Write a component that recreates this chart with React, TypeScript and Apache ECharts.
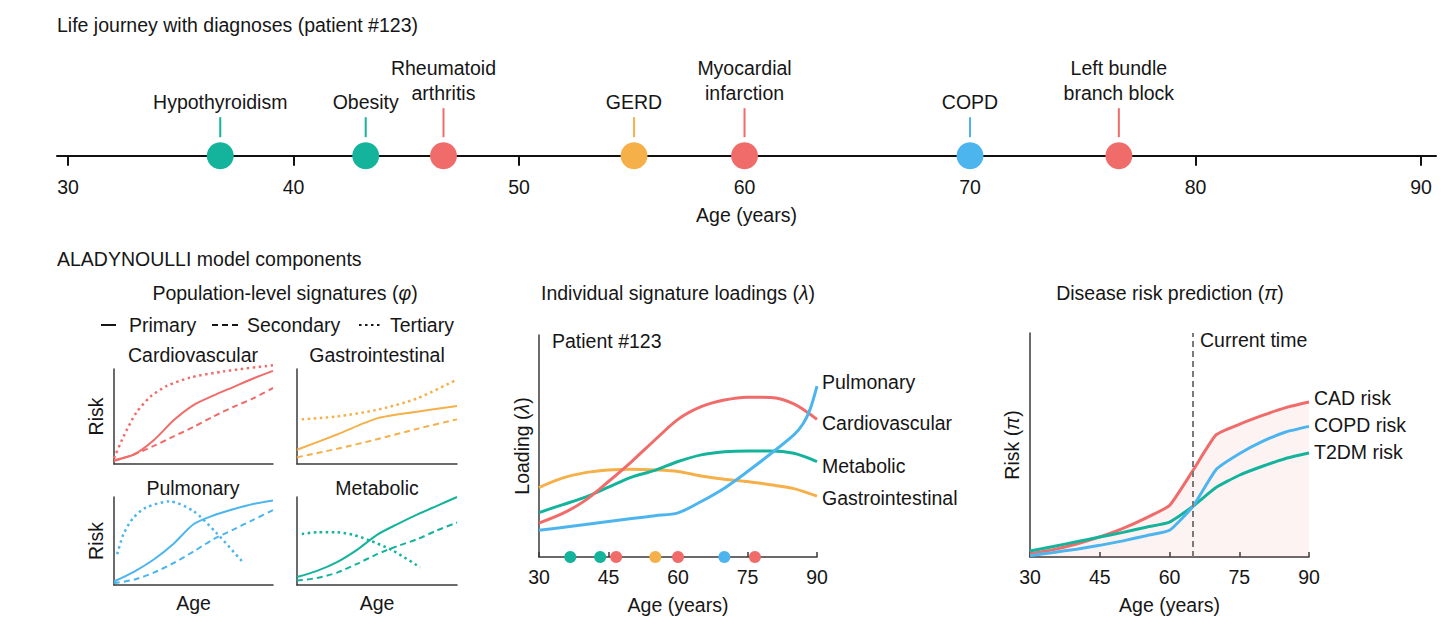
import React, { useEffect, useRef } from 'react';
import * as echarts from 'echarts';

const FONT = '"Liberation Sans", Arial, Helvetica, sans-serif';
const FS = 19.5;
const INK = '#161616';
const AXIS = '#3a3a3a';

const RED = '#F06C6A';
const TEAL = '#14B39B';
const ORANGE = '#F5B04A';
const BLUE = '#4DB5EE';
const PINK_FILL = 'rgba(242,108,106,0.08)';
const GREY_DASH = '#7a7a7a';

const groupColors: Record<string, string> = {
  Cardiovascular: RED,
  Gastrointestinal: ORANGE,
  Pulmonary: BLUE,
  Metabolic: TEAL,
};

// ---------- Timeline ----------
const timelineTicks = [30, 40, 50, 60, 70, 80, 90];
const eventNames = [
  'Hypothyroidism',
  'Obesity',
  'Rheumatoid\narthritis',
  'GERD',
  'Myocardial\ninfarction',
  'COPD',
  'Left bundle\nbranch block',
];
const eventAges = [36.75, 43.2, 46.65, 55.1, 60.0, 70.0, 76.6];
const eventGroups = [
  'Metabolic',
  'Metabolic',
  'Cardiovascular',
  'Gastrointestinal',
  'Cardiovascular',
  'Pulmonary',
  'Cardiovascular',
];

// ---------- Population-level signatures (normalised age, risk) ----------
const cardioPrimary = [[0, 0.04], [0.125, 0.1], [0.25, 0.25], [0.375, 0.46], [0.5, 0.62], [0.625, 0.72], [0.75, 0.81], [0.875, 0.9], [1, 0.98]];
const cardioSecondary = [[0, 0.03], [0.125, 0.1], [0.25, 0.19], [0.375, 0.29], [0.5, 0.39], [0.625, 0.5], [0.75, 0.6], [0.875, 0.69], [1, 0.8]];
const cardioTertiary = [[0, 0.06], [0.06, 0.29], [0.14, 0.54], [0.23, 0.71], [0.33, 0.82], [0.48, 0.91], [0.69, 0.975], [1, 1.04]];

const gastroPrimary = [[0, 0.15], [0.25, 0.31], [0.5, 0.48], [0.75, 0.55], [1, 0.61]];
const gastroSecondary = [[0, 0.07], [0.25, 0.16], [0.5, 0.26], [0.75, 0.37], [1, 0.47]];
const gastroTertiary = [[0.03, 0.47], [0.25, 0.5], [0.5, 0.57], [0.75, 0.69], [1, 0.89]];

const pulmPrimary = [[0, 0.04], [0.125, 0.15], [0.25, 0.29], [0.375, 0.47], [0.5, 0.69], [0.625, 0.79], [0.75, 0.86], [0.875, 0.92], [1, 0.96]];
const pulmSecondary = [[0, 0.02], [0.125, 0.06], [0.25, 0.14], [0.375, 0.25], [0.5, 0.38], [0.625, 0.52], [0.75, 0.63], [0.875, 0.74], [1, 0.85]];
const pulmTertiary = [[0.02, 0.35], [0.06, 0.58], [0.12, 0.76], [0.2, 0.88], [0.35, 0.95], [0.5, 0.84], [0.64, 0.6], [0.81, 0.26]];

const metabPrimary = [[0, 0.09], [0.125, 0.16], [0.25, 0.26], [0.375, 0.4], [0.5, 0.57], [0.625, 0.69], [0.75, 0.8], [0.875, 0.9], [1, 1.0]];
const metabSecondary = [[0, 0.05], [0.125, 0.08], [0.25, 0.14], [0.375, 0.24], [0.5, 0.35], [0.625, 0.44], [0.75, 0.52], [0.875, 0.62], [1, 0.71]];
const metabTertiary = [[0.03, 0.58], [0.13, 0.6], [0.25, 0.6], [0.35, 0.57], [0.45, 0.51], [0.6, 0.39], [0.77, 0.2]];

// ---------- Individual signature loadings ----------
const loadAges = [30, 35, 40, 45, 50, 55, 60, 65, 70, 75, 80, 85, 90];
const loadCardio = [0.153, 0.195, 0.255, 0.34, 0.43, 0.527, 0.62, 0.677, 0.707, 0.72, 0.719, 0.69, 0.62];
const loadMetab = [0.2, 0.235, 0.27, 0.315, 0.36, 0.39, 0.43, 0.46, 0.474, 0.478, 0.478, 0.467, 0.43];
const loadGastro = [0.313, 0.355, 0.38, 0.392, 0.395, 0.392, 0.385, 0.365, 0.35, 0.34, 0.325, 0.308, 0.274];
const pulmAges = [30, 35, 40, 45, 50, 55, 60, 65, 70, 75, 80, 85, 87, 88.5, 90];
const loadPulm = [0.12, 0.133, 0.146, 0.16, 0.173, 0.186, 0.199, 0.25, 0.31, 0.385, 0.465, 0.55, 0.6, 0.665, 0.77];

// ---------- Disease risk prediction ----------
const riskAges = [30, 35, 40, 45, 50, 55, 60, 65, 70, 75, 80, 85, 90];
const riskCAD = [0.015, 0.033, 0.058, 0.09, 0.128, 0.175, 0.23, 0.385, 0.545, 0.592, 0.632, 0.667, 0.692];
const riskCOPD = [0.006, 0.02, 0.035, 0.052, 0.072, 0.095, 0.119, 0.225, 0.39, 0.461, 0.516, 0.558, 0.583];
const riskT2DM = [0.027, 0.047, 0.068, 0.089, 0.11, 0.133, 0.156, 0.226, 0.31, 0.365, 0.405, 0.44, 0.464];
const currentAge = 65;

const pair = (xs: number[], ys: number[]) => xs.map((x, i) => [x, ys[i]]);

const txt = (size = FS) => ({ fontSize: size, fontFamily: FONT, color: INK });

function subLine(idx: number, data: number[][], color: string, dash: any, width = 2) {
  return {
    type: 'line',
    xAxisIndex: idx,
    yAxisIndex: idx,
    data,
    symbol: 'none',
    showSymbol: false,
    smooth: 0.25,
    clip: false,
    silent: true,
    lineStyle: { color, width, type: dash, cap: 'butt' },
  };
}

const DASHED = [6, 4];
const DOTTED = [2.5, 3.5];

function mainLine(idx: number, name: string, data: number[][], color: string, smooth: number, dy: number, extra: any = {}) {
  return {
    type: 'line',
    name,
    xAxisIndex: idx,
    yAxisIndex: idx,
    data,
    symbol: 'none',
    showSymbol: false,
    smooth,
    clip: false,
    silent: true,
    lineStyle: { color, width: 3 },
    endLabel: {
      show: true,
      formatter: name,
      distance: 5,
      offset: [0, dy],
      ...txt(),
    },
    ...extra,
  };
}

function subAxes(idx: number, showAge: boolean, showRisk: boolean) {
  const line = { show: true, lineStyle: { color: AXIS, width: 1.5 } };
  return {
    x: {
      gridIndex: idx,
      type: 'value',
      min: 0,
      max: 1,
      axisLine: line,
      axisTick: { show: false },
      axisLabel: { show: false },
      splitLine: { show: false },
      name: showAge ? 'Age' : '',
      nameLocation: 'middle',
      nameGap: 8,
      nameTextStyle: txt(),
    },
    y: {
      gridIndex: idx,
      type: 'value',
      min: 0,
      max: 1,
      axisLine: line,
      axisTick: { show: false },
      axisLabel: { show: false },
      splitLine: { show: false },
      name: showRisk ? 'Risk' : '',
      nameLocation: 'middle',
      nameRotate: 90,
      nameGap: 8,
      nameTextStyle: txt(),
    },
  };
}

function ageAxis(idx: number) {
  return {
    gridIndex: idx,
    type: 'value',
    min: 30,
    max: 90,
    interval: 15,
    axisLine: { show: true, lineStyle: { color: AXIS, width: 1.5 } },
    axisTick: { show: true, inside: true, length: 5, lineStyle: { color: AXIS, width: 1.5 } },
    axisLabel: { margin: 10, ...txt() },
    splitLine: { show: false },
    name: 'Age (years)',
    nameLocation: 'middle',
    nameGap: 38,
    nameTextStyle: txt(),
  };
}

function valueYAxis(idx: number, name: string, gap: number) {
  return {
    gridIndex: idx,
    type: 'value',
    min: 0,
    max: 1,
    axisLine: { show: true, lineStyle: { color: AXIS, width: 1.5 } },
    axisTick: { show: false },
    axisLabel: { show: false },
    splitLine: { show: false },
    name,
    nameLocation: 'middle',
    nameRotate: 90,
    nameGap: gap,
    nameTextStyle: { ...txt(), rich: { i: { fontStyle: 'italic', fontSize: FS, fontFamily: FONT, color: INK } } },
  };
}

function gText(text: string, x: number, y: number, align = 'left', extra: any = {}) {
  return {
    type: 'text',
    x,
    y,
    silent: true,
    style: {
      text,
      fill: INK,
      fontSize: FS,
      fontFamily: FONT,
      align,
      verticalAlign: 'middle',
      rich: { i: { fontStyle: 'italic', fontSize: FS, fontFamily: FONT, fill: INK } },
      ...extra,
    },
  };
}

function gLine(x1: number, x2: number, y: number, dash: any) {
  return {
    type: 'line',
    silent: true,
    shape: { x1, y1: y, x2, y2: y },
    style: { stroke: INK, lineWidth: 2, lineDash: dash },
  };
}

function buildOption() {
  const s1 = subAxes(1, false, true);
  const s2 = subAxes(2, false, false);
  const s3 = subAxes(3, true, true);
  const s4 = subAxes(4, true, false);

  return {
    animation: false,
    backgroundColor: '#ffffff',
    textStyle: { fontFamily: FONT },
    grid: [
      { left: 57, top: 100, width: 1379, height: 55.7 },
      { left: 114, top: 369, width: 159, height: 95 },
      { left: 297, top: 369, width: 160, height: 95 },
      { left: 114, top: 497, width: 159, height: 88 },
      { left: 297, top: 497, width: 160, height: 88 },
      { left: 539, top: 335, width: 278, height: 222 },
      { left: 1030, top: 333, width: 279, height: 224 },
    ],
    xAxis: [
      {
        gridIndex: 0,
        type: 'value',
        min: 29.51,
        max: 90.665,
        axisLine: { show: true, lineStyle: { color: '#111', width: 2 } },
        axisTick: { show: true, customValues: timelineTicks, length: 10, lineStyle: { color: '#111', width: 2 } },
        axisLabel: { customValues: timelineTicks, margin: 21, ...txt() },
        splitLine: { show: false },
        name: 'Age (years)',
        nameLocation: 'middle',
        nameGap: 49,
        nameTextStyle: txt(),
      },
      s1.x,
      s2.x,
      s3.x,
      s4.x,
      ageAxis(5),
      ageAxis(6),
    ],
    yAxis: [
      { gridIndex: 0, type: 'value', min: 0, max: 1, show: false },
      s1.y,
      s2.y,
      s3.y,
      s4.y,
      valueYAxis(5, 'Loading ({i|λ})', 7),
      valueYAxis(6, 'Risk ({i|π})', 8),
    ],
    graphic: [
      gText('Life journey with diagnoses (patient #123)', 57, 25),
      gText('ALADYNOULLI model components', 57, 259),
      gText('Population-level signatures ({i|φ})', 285, 293, 'center'),
      gText('Individual signature loadings ({i|λ})', 678, 293, 'center'),
      gText('Disease risk prediction ({i|π})', 1170, 293, 'center'),
      gLine(101, 116, 325, null),
      gText('Primary', 129, 325),
      gLine(212, 238, 325, DASHED),
      gText('Secondary', 247, 325),
      gLine(359, 382, 325, DOTTED),
      gText('Tertiary', 390, 325),
      gText('Cardiovascular', 193, 355, 'center'),
      gText('Gastrointestinal', 377, 355, 'center'),
      gText('Pulmonary', 193, 488, 'center'),
      gText('Metabolic', 377, 488, 'center'),
      gText('Patient #123', 552, 341),
      gText('Current time', 1200, 340),
    ],
    series: [
      {
        type: 'custom',
        xAxisIndex: 0,
        yAxisIndex: 0,
        clip: false,
        silent: true,
        z: 5,
        data: eventAges.map((a) => [a, 0]),
        renderItem: (params: any, api: any) => {
          const i = params.dataIndex;
          const pt = api.coord([api.value(0), api.value(1)]);
          const color = groupColors[eventGroups[i]];
          const name = eventNames[i];
          const two = name.indexOf('\n') >= 0;
          const cx = pt[0];
          const cy = pt[1];
          return {
            type: 'group',
            children: [
              {
                type: 'line',
                shape: { x1: cx, y1: cy - 18.5, x2: cx, y2: two ? cy - 47.5 : cy - 38.5 },
                style: { stroke: color, lineWidth: 2 },
              },
              { type: 'circle', shape: { cx, cy, r: 13.5 }, style: { fill: color } },
              {
                type: 'text',
                style: {
                  text: name,
                  x: cx,
                  y: two ? cy - 75 : cy - 54,
                  align: 'center',
                  verticalAlign: 'middle',
                  fill: INK,
                  fontSize: FS,
                  fontFamily: FONT,
                  lineHeight: 25,
                },
              },
            ],
          };
        },
      },
      // Population-level signatures
      subLine(1, cardioPrimary, RED, 'solid'),
      subLine(1, cardioSecondary, RED, DASHED),
      subLine(1, cardioTertiary, RED, DOTTED, 2.5),
      subLine(2, gastroPrimary, ORANGE, 'solid'),
      subLine(2, gastroSecondary, ORANGE, DASHED),
      subLine(2, gastroTertiary, ORANGE, DOTTED, 2.5),
      subLine(3, pulmPrimary, BLUE, 'solid'),
      subLine(3, pulmSecondary, BLUE, DASHED),
      subLine(3, pulmTertiary, BLUE, DOTTED, 2.5),
      subLine(4, metabPrimary, TEAL, 'solid'),
      subLine(4, metabSecondary, TEAL, DASHED),
      subLine(4, metabTertiary, TEAL, DOTTED, 2.5),
      // Individual loadings
      mainLine(5, 'Gastrointestinal', pair(loadAges, loadGastro), ORANGE, 0.3, 2),
      mainLine(5, 'Metabolic', pair(loadAges, loadMetab), TEAL, 0.3, 4),
      mainLine(5, 'Cardiovascular', pair(loadAges, loadCardio), RED, 0.3, 4),
      mainLine(5, 'Pulmonary', pair(pulmAges, loadPulm), BLUE, 0.3, -4),
      {
        type: 'scatter',
        xAxisIndex: 5,
        yAxisIndex: 5,
        clip: false,
        silent: true,
        z: 6,
        symbolSize: 12,
        data: eventAges.map((a, i) => ({ value: [a, 0], itemStyle: { color: groupColors[eventGroups[i]], opacity: 1 } })),
      },
      // Disease risk
      mainLine(6, 'CAD risk', pair(riskAges, riskCAD), RED, 0.15, -4, {
        areaStyle: { color: PINK_FILL, opacity: 1 },
        markLine: {
          silent: true,
          symbol: ['none', 'none'],
          label: { show: false },
          lineStyle: { color: GREY_DASH, width: 2, type: [6, 4] },
          data: [{ xAxis: currentAge }],
        },
      }),
      mainLine(6, 'T2DM risk', pair(riskAges, riskT2DM), TEAL, 0.15, -1),
      mainLine(6, 'COPD risk', pair(riskAges, riskCOPD), BLUE, 0.15, -1),
    ],
  };
}

export default function App() {
  const ref = useRef<HTMLDivElement>(null);
  useEffect(() => {
    if (!ref.current) return;
    const chart = echarts.init(ref.current, null, { renderer: 'svg' });
    chart.setOption(buildOption() as any);
    return () => chart.dispose();
  }, []);
  return (
    <div
      ref={ref}
      style={{ position: 'fixed', left: 0, top: 0, width: 1456, height: 626, background: '#fff' }}
    />
  );
}
